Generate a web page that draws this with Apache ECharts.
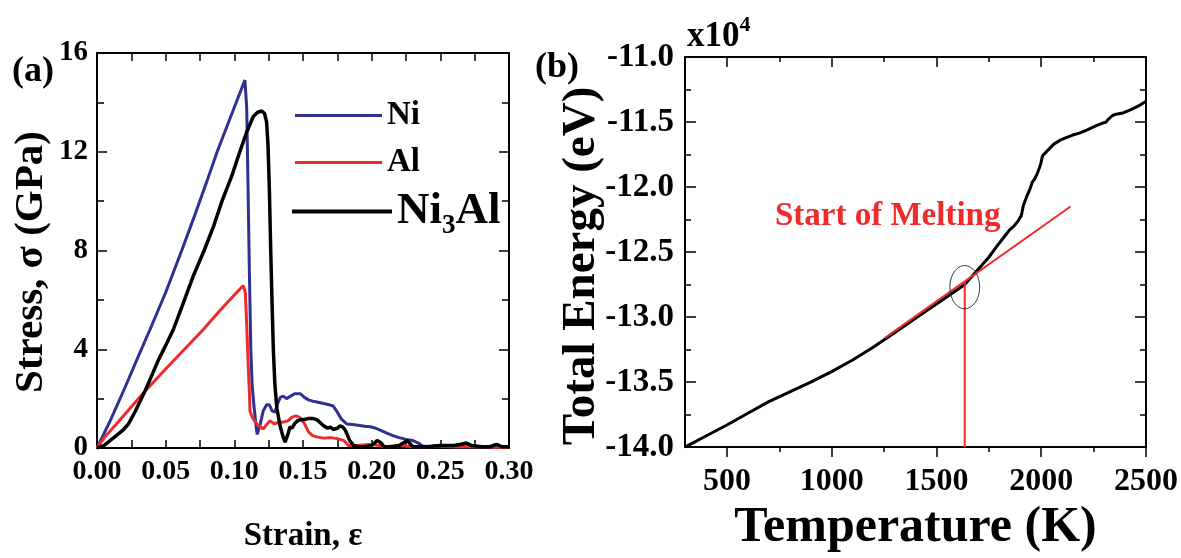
<!DOCTYPE html>
<html>
<head>
<meta charset="utf-8">
<script src="https://cdn.jsdelivr.net/npm/echarts@6/dist/echarts.min.js"></script>
<style>
html,body{margin:0;padding:0;background:#fff;}
#chart{width:1181px;height:558px;}
</style>
</head>
<body>
<div id="chart"></div>
<script>
// ---------- Panel (a): stress-strain ----------
const strainTicks = [0, 0.05, 0.10, 0.15, 0.20, 0.25, 0.30];
const stressTicks = [0, 4, 8, 12, 16];
const niData = [
  [0,0],[0.01,1.15],[0.02,2.4],[0.03,3.7],[0.0386,4.8],[0.05,6.3],[0.0617,8.0],[0.07,9.25],[0.08,10.8],[0.0875,12.0],[0.1,13.8],[0.1077,14.9],
  [0.109,13.8],[0.110,10.5],[0.111,7.0],[0.112,4.0],[0.113,2.5],[0.1145,1.6],[0.116,0.8],[0.1167,0.55],[0.119,1.0],[0.121,1.5],[0.1235,1.75],
  [0.1255,1.75],[0.1275,1.5],[0.1296,1.45],[0.1315,1.8],[0.1335,2.05],[0.1356,2.1],[0.138,2.0],[0.141,2.1],[0.144,2.2],[0.148,2.2],[0.151,2.05],
  [0.154,1.95],[0.157,1.9],[0.161,1.85],[0.165,1.8],[0.169,1.75],[0.172,1.7],[0.175,1.45],[0.178,1.17],[0.182,0.97],[0.186,0.95],[0.19,0.92],
  [0.195,0.88],[0.199,0.86],[0.203,0.8],[0.207,0.7],[0.211,0.6],[0.2155,0.5],[0.22,0.42],[0.225,0.35],[0.23,0.3],[0.234,0.2],[0.237,0.08],
  [0.242,0.05],[0.248,0.1],[0.255,0.05],[0.265,0.06],[0.275,0.04],[0.285,0.05],[0.3,0.04]
];
const alData = [
  [0,0],[0.005,0.4],[0.013,0.9],[0.02,1.35],[0.0349,2.3],[0.05,3.2],[0.0774,4.8],[0.09,5.6],[0.1,6.2],[0.1065,6.58],
  [0.108,6.3],[0.109,5.0],[0.110,3.5],[0.111,2.2],[0.1114,1.5],[0.113,1.25],[0.1163,0.97],[0.121,0.77],[0.1235,0.95],[0.126,1.1],
  [0.129,0.98],[0.132,1.02],[0.1356,1.05],[0.139,1.1],[0.142,1.25],[0.145,1.3],[0.148,1.22],[0.151,1.0],[0.154,0.65],[0.157,0.5],
  [0.160,0.45],[0.165,0.4],[0.17,0.42],[0.175,0.38],[0.18,0.3],[0.183,0.1],[0.19,0.1],[0.2,0.15],[0.205,0.1],[0.21,0.05],[0.22,0.1],
  [0.23,0.05],[0.24,0.05],[0.25,0.08],[0.26,0.05],[0.27,0.05],[0.28,0.05],[0.29,0.03],[0.3,0.03]
];
const ni3alData = [
  [0,0],[0.005,0.1],[0.0095,0.3],[0.014,0.5],[0.0185,0.7],[0.0226,0.95],[0.028,1.5],[0.0349,2.3],[0.04,2.95],[0.045,3.6],[0.05,4.15],
  [0.0556,4.8],[0.062,5.75],[0.07,6.95],[0.078,8.0],[0.085,9.0],[0.091,10.0],[0.098,11.0],[0.104,12.0],[0.109,12.8],[0.1138,13.43],
  [0.117,13.6],[0.12,13.65],
  [0.122,13.55],[0.1235,13.2],[0.1245,12.3],[0.1255,10.5],[0.1265,8.0],[0.1275,5.8],[0.1284,4.0],[0.1295,2.6],[0.131,1.6],[0.1333,0.9],
  [0.1355,0.45],[0.137,0.24],[0.138,0.3],[0.139,0.55],[0.1405,0.85],[0.142,0.8],[0.144,1.0],[0.146,1.1],[0.148,1.14],[0.151,1.15],
  [0.154,1.2],[0.157,1.2],[0.160,1.15],[0.163,1.0],[0.165,0.9],[0.168,0.8],[0.170,0.85],[0.172,0.75],[0.175,0.8],[0.177,0.9],
  [0.179,0.85],[0.181,0.7],[0.184,0.3],[0.187,0.1],[0.19,0.05],[0.195,0.05],[0.2,0.1],[0.204,0.3],[0.207,0.2],[0.209,0.05],
  [0.215,0.05],[0.22,0.1],[0.226,0.3],[0.23,0.05],[0.24,0.05],[0.25,0.1],[0.26,0.1],[0.265,0.15],[0.269,0.2],[0.273,0.1],
  [0.28,0.05],[0.286,0.05],[0.291,0.15],[0.295,0.05],[0.3,0.05]
];
// ---------- Panel (b): energy-temperature ----------
const tempMajorTicks = [500, 1000, 1500, 2000, 2500];
const tempMinorTicks = [750, 1250, 1750, 2250];
const energyData = [
  [300,-14.0],[400,-13.915],[500,-13.83],[600,-13.74],[700,-13.65],[800,-13.575],[900,-13.5],[1000,-13.42],[1100,-13.33],
  [1200,-13.23],[1300,-13.12],[1400,-13.01],[1500,-12.9],[1563,-12.83],[1635,-12.75],[1706,-12.62],[1750,-12.54],[1786,-12.46],
  [1820,-12.39],[1849,-12.33],[1870,-12.3],[1890,-12.26],[1905,-12.22],[1915,-12.14],[1929,-12.08],[1945,-12.02],[1958,-11.96],
  [1968,-11.94],[1980,-11.9],[1992,-11.85],[1998,-11.82],[2006,-11.76],[2030,-11.72],[2060,-11.67],[2090,-11.64],[2119,-11.62],
  [2150,-11.6],[2182,-11.585],[2220,-11.56],[2260,-11.53],[2290,-11.51],[2310,-11.5],[2320,-11.48],[2340,-11.45],[2357,-11.44],
  [2390,-11.43],[2420,-11.41],[2460,-11.38],[2500,-11.34]
];
const tangentLine = [[1254,-13.16],[2140,-12.15]];
const meltLine = [[1635,-14.0],[1635,-12.73]];
const meltCircle = [[1635,-12.77,71,0.166]]; // center T, E, radius T, radius E

const FONT = "'Liberation Serif','Times New Roman',serif";
const BLUE = '#2e3192', RED = '#ee2a2a', BLACK = '#000';

function txt(size, extra) {
  return Object.assign({fontFamily: FONT, fontWeight: 'bold', fontSize: size, color: BLACK}, extra || {});
}
const axisLine = {show: true, onZero: false, lineStyle: {color: BLACK, width: 2}};
const tickLine = {color: BLACK, width: 1.5};

const chart = echarts.init(document.getElementById('chart'));
const option = {
  animation: false,
  backgroundColor: '#fff',
  grid: [
    {left: 97, top: 53, width: 412, height: 396},
    {left: 685, top: 57, width: 461, height: 398}
  ],
  legend: [
    {data: ['Ni'], left: 290, top: 94, icon: 'rect', itemWidth: 87, itemHeight: 3, selectedMode: false,
     textStyle: txt(33)},
    {data: ['Al'], left: 290, top: 141, icon: 'rect', itemWidth: 87, itemHeight: 3, selectedMode: false,
     textStyle: txt(33)},
    {data: ['Ni3Al'], left: 287, top: 184, icon: 'rect', itemWidth: 100, itemHeight: 4, selectedMode: false,
     formatter: () => '{n|Ni}{s|3}{n|Al}',
     textStyle: txt(45, {rich: {
       n: txt(45, {lineHeight: 56, verticalAlign: 'middle'}),
       s: txt(27, {lineHeight: 34, verticalAlign: 'bottom'})
     }})}
  ],
  xAxis: [
    {gridIndex: 0, type: 'value', min: 0, max: 0.3, interval: 0.05, position: 'bottom',
     name: 'Strain, ε', nameLocation: 'middle', nameGap: 72, nameTextStyle: txt(33),
     axisLine: axisLine, axisTick: {inside: true, length: 8, lineStyle: tickLine},
     minorTick: {show: true, splitNumber: 2, length: 8, lineStyle: tickLine},
     axisLabel: Object.assign(txt(28), {margin: 10, formatter: v => v.toFixed(2),
       customValues: strainTicks}),
     splitLine: {show: false}},
    {gridIndex: 0, type: 'value', min: 0, max: 0.3, interval: 0.05, position: 'top',
     axisLine: axisLine, axisTick: {inside: true, length: 8, lineStyle: tickLine},
     minorTick: {show: true, splitNumber: 2, length: 8, lineStyle: tickLine},
     axisLabel: {show: false}, splitLine: {show: false}},
    // panel b bottom: major ticks + labels
    {gridIndex: 1, type: 'value', min: 300, max: 2500, position: 'bottom',
     name: 'Temperature (K)', nameLocation: 'middle', nameGap: 50, nameTextStyle: txt(50),
     axisLine: axisLine,
     axisTick: {inside: false, length: 10, customValues: tempMajorTicks, lineStyle: tickLine},
     axisLabel: Object.assign(txt(32), {margin: 19, customValues: tempMajorTicks, formatter: v => String(v)}),
     splitLine: {show: false}},
    // panel b bottom minor ticks
    {gridIndex: 1, type: 'value', min: 300, max: 2500, position: 'bottom',
     axisLine: {show: false},
     axisTick: {inside: false, length: 5, customValues: tempMinorTicks, lineStyle: tickLine},
     axisLabel: {show: false}, splitLine: {show: false}},
    // panel b top
    {gridIndex: 1, type: 'value', min: 300, max: 2500, position: 'top',
     axisLine: axisLine,
     axisTick: {inside: true, length: 10, customValues: tempMajorTicks, lineStyle: tickLine},
     axisLabel: {show: false}, splitLine: {show: false}},
    {gridIndex: 1, type: 'value', min: 300, max: 2500, position: 'top',
     axisLine: {show: false},
     axisTick: {inside: true, length: 5, customValues: tempMinorTicks, lineStyle: tickLine},
     axisLabel: {show: false}, splitLine: {show: false}}
  ],
  yAxis: [
    {gridIndex: 0, type: 'value', min: 0, max: 16, interval: 4, position: 'left',
     axisLine: axisLine, axisTick: {inside: true, length: 10, lineStyle: tickLine},
     minorTick: {show: true, splitNumber: 2, length: 7, lineStyle: tickLine},
     axisLabel: Object.assign(txt(29), {margin: 9, customValues: stressTicks}), splitLine: {show: false}},
    {gridIndex: 0, type: 'value', min: 0, max: 16, interval: 4, position: 'right',
     axisLine: axisLine, axisTick: {inside: true, length: 10, lineStyle: tickLine},
     minorTick: {show: true, splitNumber: 2, length: 7, lineStyle: tickLine},
     axisLabel: {show: false}, splitLine: {show: false}},
    {gridIndex: 1, type: 'value', min: -14, max: -11, interval: 0.5, position: 'left',
     axisLine: axisLine, axisTick: {inside: true, length: 11, lineStyle: tickLine},
     minorTick: {show: true, splitNumber: 2, length: 6, lineStyle: tickLine},
     axisLabel: Object.assign(txt(33), {margin: 11, formatter: v => v.toFixed(1)}), splitLine: {show: false}},
    {gridIndex: 1, type: 'value', min: -14, max: -11, interval: 0.5, position: 'right',
     axisLine: axisLine, axisTick: {inside: true, length: 11, lineStyle: tickLine},
     minorTick: {show: true, splitNumber: 2, length: 6, lineStyle: tickLine},
     axisLabel: {show: false}, splitLine: {show: false}}
  ],
  series: [
    {name: 'Ni', type: 'line', xAxisIndex: 0, yAxisIndex: 0, data: niData, symbol: 'none',
     lineStyle: {color: BLUE, width: 3}, itemStyle: {color: BLUE}},
    {name: 'Al', type: 'line', xAxisIndex: 0, yAxisIndex: 0, data: alData, symbol: 'none',
     lineStyle: {color: RED, width: 3}, itemStyle: {color: RED}},
    {name: 'Ni3Al', type: 'line', xAxisIndex: 0, yAxisIndex: 0, data: ni3alData, symbol: 'none', z: 3,
     lineStyle: {color: BLACK, width: 3.5}, itemStyle: {color: BLACK}},
    {name: 'Energy', type: 'line', xAxisIndex: 2, yAxisIndex: 2, data: energyData, symbol: 'none',
     lineStyle: {color: BLACK, width: 3}},
    {name: 'Tangent', type: 'line', xAxisIndex: 2, yAxisIndex: 2, data: tangentLine, symbol: 'none', z: 4,
     lineStyle: {color: RED, width: 2}},
    {name: 'Melt', type: 'line', xAxisIndex: 2, yAxisIndex: 2, data: meltLine, symbol: 'none', z: 4,
     lineStyle: {color: RED, width: 2}},
    {name: 'Circle', type: 'custom', xAxisIndex: 2, yAxisIndex: 2, data: meltCircle, z: 5,
     renderItem: function (params, api) {
       const c = api.coord([api.value(0), api.value(1)]);
       const s = api.size([api.value(2), api.value(3)]);
       const pts = [];
       for (let i = 0; i <= 64; i++) {
         const a = i / 64 * Math.PI * 2;
         pts.push([c[0] + s[0] * Math.cos(a), c[1] + s[1] * Math.sin(a)]);
       }
       return {type: 'polyline', shape: {points: pts}, style: {fill: 'none', stroke: '#333', lineWidth: 1}};
     }}
  ],
  graphic: [
    {type: 'text', x: 31, y: 262, rotation: Math.PI / 2,
     style: {text: 'Stress, σ (GPa)', font: "bold 41px " + FONT, fill: BLACK, textAlign: 'center', textVerticalAlign: 'middle'}},
    {type: 'text', x: 582, y: 266, rotation: Math.PI / 2,
     style: {text: 'Total Energy (eV)', font: "bold 47px " + FONT, fill: BLACK, textAlign: 'center', textVerticalAlign: 'middle'}},
    {type: 'text', left: 12, top: 54, style: {text: '(a)', font: "bold 36px " + FONT, fill: BLACK}},
    {type: 'text', left: 535, top: 50, style: {text: '(b)', font: "bold 36px " + FONT, fill: BLACK}},
    {type: 'text', left: 687, top: 14, style: {text: '{a|x10}{b|4}', rich: {
      a: {fontFamily: FONT, fontWeight: 'bold', fontSize: 35, fill: BLACK, verticalAlign: 'bottom', lineHeight: 40},
      b: {fontFamily: FONT, fontWeight: 'bold', fontSize: 22, fill: BLACK, verticalAlign: 'top', lineHeight: 22}
    }}},
    {type: 'text', left: 775, top: 200, style: {text: 'Start of Melting', font: "bold 33px " + FONT, fill: RED}}
  ]
};
chart.setOption(option);
</script>
</body>
</html>
